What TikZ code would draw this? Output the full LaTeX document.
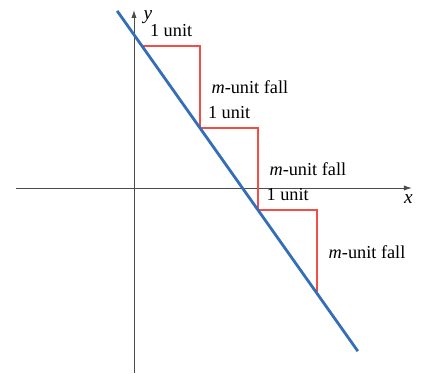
\documentclass[tikz,border=0pt]{standalone}
\usepackage{fontspec}
\setmainfont{Liberation Serif}
\usetikzlibrary{positioning}
\usetikzlibrary{calc}
\usetikzlibrary{arrows.meta}
\definecolor{blue}{RGB}{52,110,182}
\definecolor{red}{RGB}{240,78,70}

\begin{document}
\begin{tikzpicture}[
    x=1.16cm, y=1.64cm,
    axis/.style={draw=black!70, line width=0.5pt, -{Latex[length=4.5pt,width=3pt]}},
    stair/.style={draw=red, line width=1.3pt},
    line/.style={draw=blue, line width=1.6pt},
    runlabel/.style={above, yshift=2pt, font=\rmfamily\fontsize{10.4}{12}\selectfont},
    falllabel/.style={right, xshift=3pt, font=\rmfamily\fontsize{10.4}{12}\selectfont},
    axislabel/.style={font=\rmfamily\fontsize{11}{12}\selectfont\itshape}
]
    \useasboundingbox (-2.31,-2.268) rectangle (4.966,2.293);

    % axes
    \coordinate (xl) at (-2.03,0);
    \coordinate (xr) at (4.79,0);
    \coordinate (yb) at (0,-2.25);
    \coordinate (yt) at (0,2.17);
    \draw[axis] (xl) -- (xr);
    \draw[axis] (yb) -- (yt);
    \node[axislabel, below left=0pt and -4pt of xr] (xlab) {x};
    \node[axislabel, right=2pt of yt, yshift=-4pt] (ylab) {y};

    % steps along the line
    \coordinate (s0) at (0.14,1.73);
    \coordinate (c1) at (1.14,1.73);
    \coordinate (s1) at (1.14,0.73);
    \coordinate (c2) at (2.14,0.73);
    \coordinate (s2) at (2.14,-0.27);
    \coordinate (c3) at (3.16,-0.27);
    \coordinate (s3) at (3.16,-1.29);
    \draw[stair] (s0) -- (c1) -- (s1) -- (c2) -- (s2) -- (c3) -- (s3);

    % the line
    \coordinate (ltop) at (-0.29,2.16);
    \coordinate (lend) at (3.86,-1.99);
    \draw[line] (ltop) -- (lend);

    \node[runlabel] (run1) at ($(s0)!0.5!(c1)$) {1 unit};
    \node[runlabel] (run2) at ($(s1)!0.5!(c2)$) {1 unit};
    \node[runlabel] (run3) at ($(s2)!0.5!(c3)$) {1 unit};
    \node[falllabel] (fall1) at ($(c1)!0.5!(s1)$) {\textit{m}-unit fall};
    \node[falllabel] (fall2) at ($(c2)!0.5!(s2)$) {\textit{m}-unit fall};
    \node[falllabel] (fall3) at ($(c3)!0.5!(s3)$) {\textit{m}-unit fall};
\end{tikzpicture}
\end{document}
